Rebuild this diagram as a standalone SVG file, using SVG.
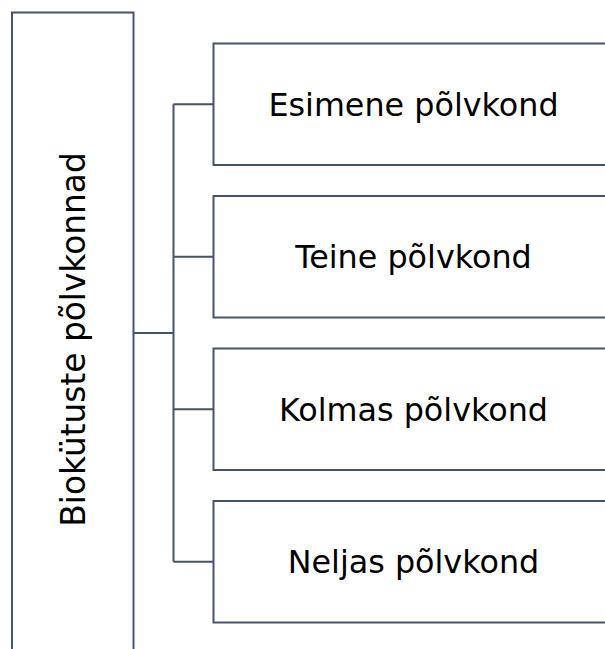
<svg xmlns="http://www.w3.org/2000/svg" width="605" height="649" viewBox="0 0 605 649">
<style>
.box{fill:#ffffff;stroke:#44546A;stroke-width:2}
.con{fill:none;stroke:#44546A;stroke-width:2}
.t{font-family:"DejaVu Sans",Verdana,sans-serif;font-size:31.8px;fill:#000000;text-anchor:middle}
.v{font-size:32.8px}
</style>
<rect width="605" height="649" fill="#ffffff"/>
<g id="connectors">
<path class="con" d="M133.5 333 H173.5 M173.5 104.25 V561.75 M173.5 104.25 H213.5 M173.5 256.75 H213.5 M173.5 409.25 H213.5 M173.5 561.75 H213.5"/>
</g>
<g id="root">
<rect class="box" x="12" y="12.5" width="121.5" height="660"/>
<text class="t v" transform="translate(85 339.5) rotate(-90)">Biokütuste põlvkonnad</text>
</g>
<g id="n1">
<rect class="box" x="213.5" y="43.5" width="400" height="121.5"/>
<text class="t" x="413.5" y="115.5">Esimene põlvkond</text>
</g>
<g id="n2">
<rect class="box" x="213.5" y="196" width="400" height="121.5"/>
<text class="t" x="413.5" y="268">Teine põlvkond</text>
</g>
<g id="n3">
<rect class="box" x="213.5" y="348.5" width="400" height="121.5"/>
<text class="t" x="413.5" y="420.5">Kolmas põlvkond</text>
</g>
<g id="n4">
<rect class="box" x="213.5" y="501" width="400" height="121.5"/>
<text class="t" x="413.5" y="573">Neljas põlvkond</text>
</g>
</svg>
